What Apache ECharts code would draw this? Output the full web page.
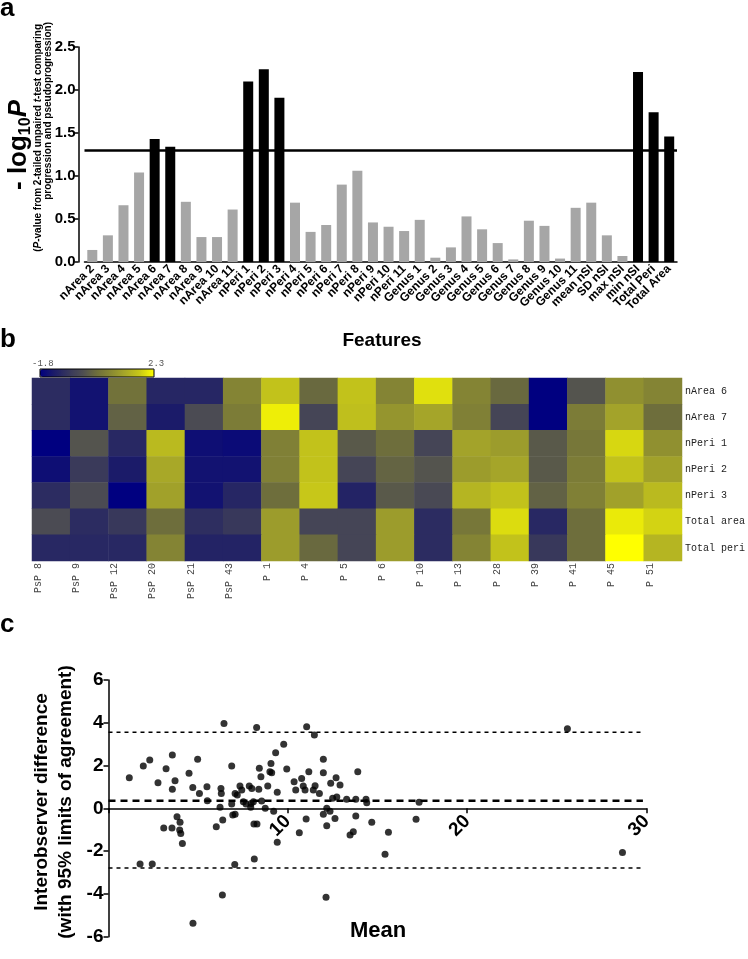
<!DOCTYPE html>
<html><head><meta charset="utf-8">
<script src="https://cdn.jsdelivr.net/npm/echarts@6/dist/echarts.min.js"></script>
<style>html,body{margin:0;padding:0;background:#fff}#c{width:748px;height:959px}</style>
</head><body><div id="c"></div>
<script>
// ---------- Panel a data ----------
const barCategories = ['nArea 2','nArea 3','nArea 4','nArea 5','nArea 6','nArea 7','nArea 8','nArea 9','nArea 10','nArea 11',
  'nPeri 1','nPeri 2','nPeri 3','nPeri 4','nPeri 5','nPeri 6','nPeri 7','nPeri 8','nPeri 9','nPeri 10','nPeri 11',
  'Genus 1','Genus 2','Genus 3','Genus 4','Genus 5','Genus 6','Genus 7','Genus 8','Genus 9','Genus 10','Genus 11',
  'mean nSI','SD nSI','max nSI','min nSI','Total Peri','Total Area'];
const barValues = [0.14,0.31,0.66,1.04,1.43,1.34,0.70,0.29,0.29,0.61,
  2.10,2.24,1.91,0.69,0.35,0.43,0.90,1.06,0.46,0.41,0.36,
  0.49,0.05,0.17,0.53,0.38,0.22,0.03,0.48,0.42,0.04,0.63,
  0.69,0.31,0.07,2.21,1.74,1.46];
const threshold = 1.301;
const barTicks = [0,0.5,1.0,1.5,2.0,2.5];

// ---------- Panel b data ----------
const heatCols = ['PsP 8','PsP 9','PsP 12','PsP 20','PsP 21','PsP 43','P 1','P 4','P 5','P 6','P 10','P 13','P 28','P 39','P 41','P 45','P 51'];
const heatRows = ['nArea 6','nArea 7','nPeri 1','nPeri 2','nPeri 3','Total area','Total peri'];
const rowNArea6 = [-0.98,-1.47,0.33,-1.10,-1.10,0.66,1.69,0.17,1.69,0.66,2.01,0.66,0.17,-1.80,-0.16,0.87,0.66];
const rowNArea7 = [-0.98,-1.47,0.05,-1.31,-0.32,0.50,2.14,-0.45,1.64,0.95,1.23,0.58,-0.45,-1.80,0.50,1.19,0.25];
const rowNPeri1 = [-1.80,-0.16,-1.06,1.56,-1.55,-1.60,0.58,1.69,-0.08,0.25,-0.45,1.19,1.07,-0.08,0.41,1.93,0.87];
const rowNPeri2 = [-1.55,-0.69,-1.31,1.28,-1.47,-1.47,0.58,1.69,-0.45,0.09,-0.16,1.07,1.23,-0.08,0.50,1.69,1.15];
const rowNPeri3 = [-0.98,-0.32,-1.80,1.15,-1.47,-1.10,0.25,1.77,-1.14,-0.08,-0.37,1.48,1.69,0.05,0.58,1.15,1.56];
const rowTotalArea = [-0.32,-0.98,-0.73,0.25,-0.94,-0.73,1.07,-0.45,-0.45,1.07,-0.98,0.41,1.97,-1.06,0.25,2.10,1.89];
const rowTotalPeri = [-1.06,-1.06,-1.06,0.66,-1.14,-1.14,1.07,0.17,-0.45,1.07,-0.98,0.66,1.69,-0.73,0.25,2.30,1.48];
const heatMin = -1.8, heatMax = 2.3;

// ---------- Panel c data ----------
const meanX = [1.16,1.94,2.30,2.76,1.76,2.44,3.08,3.21,3.56,3.56,3.71,3.54,3.82,3.99,3.97,4.03,4.12,4.49,4.70,4.71,
  4.97,5.07,5.49,5.51,6.01,6.22,6.27,6.29,6.37,6.44,6.35,6.87,6.87,6.93,7.06,7.06,7.04,7.18,7.33,7.43,
  7.52,7.67,7.85,7.95,7.93,7.99,8.08,8.11,8.13,8.26,8.28,8.38,8.41,8.50,8.54,8.74,8.88,9.00,9.06,9.10,
  9.21,9.32,9.41,9.41,9.77,9.94,10.35,10.44,10.64,10.77,10.86,11.05,11.02,10.96,11.17,11.48,11.52,11.42,11.76,11.98,
  11.98,11.98,12.13,12.17,12.17,12.35,12.39,12.50,12.63,12.69,12.73,12.91,13.28,13.47,13.65,13.79,13.79,13.90,14.36,14.40,
  14.68,15.61,15.42,17.15,17.32,25.59,28.66];
const diffY = [1.43,1.98,2.26,1.20,-2.60,-2.60,-0.92,1.85,2.49,0.89,1.29,-0.92,-0.39,-0.65,-1.01,-1.17,-1.64,1.64,0.98,-5.37,
  2.29,0.70,1.01,0.36,-0.86,0.05,0.93,0.70,-0.55,3.97,-4.05,1.98,0.20,-0.31,0.70,-0.28,-2.62,0.62,1.04,0.86,
  0.31,0.20,1.04,0.23,0.05,0.93,0.31,-0.73,-2.37,3.78,-0.73,0.89,1.87,1.48,0.34,0.00,1.04,1.71,2.10,1.66,
  -0.13,2.60,0.75,-1.59,3.00,1.84,1.24,0.86,-1.14,1.40,1.04,3.81,-0.50,0.86,1.71,3.43,1.06,0.86,0.70,2.29,
  1.66,-0.28,-4.16,0.00,-0.81,-0.13,1.17,0.47,-0.47,1.43,0.53,1.09,0.42,-1.25,-1.09,-0.36,0.42,1.71,0.42,0.26,
  -0.65,-1.12,-2.15,-0.51,0.28,3.72,-2.06];
const loaUpper = 3.56, loaBias = 0.35, loaLower = -2.79;
const loaXRange = [0, 29.8];

// ---------- build ----------
const heatMatrix = [rowNArea6,rowNArea7,rowNPeri1,rowNPeri2,rowNPeri3,rowTotalArea,rowTotalPeri];
const heatData = [];
heatMatrix.forEach((row,r)=>row.forEach((v,c)=>heatData.push([c,r,v])));
const scatterData = meanX.map((x,i)=>[x,diffY[i]]);
const hLine = v => loaXRange.map(x=>[x,v]);

const F = 'Liberation Sans, Arial, Helvetica, sans-serif';
const M = 'Liberation Mono, DejaVu Sans Mono, monospace';

// panel c grid geometry; x axis drawn at y = 0
const cTop = 680, cHeight = 256.7, yMinC = -6, yMaxC = 6;
const zeroOffset = -cHeight * (0 - yMinC) / (yMaxC - yMinC);

const chart = echarts.init(document.getElementById('c'), null, {renderer:'canvas'});
chart.setOption({
  animation:false,
  backgroundColor:'#fff',
  textStyle:{fontFamily:F},
  grid:[
    {left:84.5, top:47, width:592.5, height:215},
    {left:32, top:378, width:653, height:183},
    {left:108.5, top:cTop, width:538, height:cHeight}
  ],
  xAxis:[
    {gridIndex:0, type:'category', data:barCategories,
     axisLine:{lineStyle:{color:'#000',width:1.5}},
     axisTick:{alignWithLabel:true,length:4,lineStyle:{color:'#000',width:1.2}},
     axisLabel:{interval:0, rotate:45, margin:5, fontSize:12, fontWeight:'bold', color:'#000', fontFamily:F}},
    {gridIndex:1, type:'category', data:heatCols, position:'bottom',
     axisLine:{show:false}, axisTick:{show:false}, splitArea:{show:false},
     axisLabel:{interval:0, rotate:90, margin:2, fontSize:10, color:'#444', fontFamily:M, verticalAlign:'bottom', lineHeight:26}},
    {gridIndex:2, type:'value', min:0, max:30, interval:10, offset:zeroOffset,
     axisLine:{onZero:false, lineStyle:{color:'#000',width:1.5}},
     axisTick:{length:5, lineStyle:{color:'#000',width:1.5}},
     splitLine:{show:false},
     axisLabel:{rotate:45, margin:10, fontSize:19, fontWeight:'bold', color:'#000',
       formatter:v=> v===0 ? '' : String(v)}}
  ],
  yAxis:[
    {gridIndex:0, type:'value', min:barTicks[0], max:barTicks[barTicks.length-1], interval:0.5, offset:6,
     axisLine:{show:true, lineStyle:{color:'#000',width:1.5}},
     axisTick:{show:true,length:4,lineStyle:{color:'#000',width:1.5}},
     splitLine:{show:false},
     axisLabel:{margin:3, fontSize:15, fontWeight:'bold', color:'#000', formatter:v=>v.toFixed(1)}},
    {gridIndex:1, type:'category', data:heatRows, inverse:true, position:'right',
     axisLine:{show:false}, axisTick:{show:false},
     axisLabel:{margin:3, fontSize:10, color:'#222', fontFamily:M}},
    {gridIndex:2, type:'value', min:yMinC, max:yMaxC, interval:2,
     axisLine:{show:true, onZero:false, lineStyle:{color:'#000',width:1.5}},
     axisTick:{show:true,length:5,lineStyle:{color:'#000',width:1.5}},
     splitLine:{show:false},
     axisLabel:{margin:5, fontSize:19, fontWeight:'bold', color:'#000'}}
  ],
  visualMap:{type:'continuous', min:heatMin, max:heatMax, seriesIndex:1, orient:'horizontal',
    left:40, top:369, itemWidth:8, itemHeight:114, calculable:false, padding:0, showLabel:false,
    inRange:{color:['#000080','#1c1c68','#36365c','#4e4e52','#6e6e3c','#8a8a32','#a8a828','#c8c818','#ffff00']}},
  graphic:[
    {type:'text', left:0, top:-4, style:{text:'a', font:'bold 26px '+F, fill:'#000'}},
    {type:'text', left:0, top:327, style:{text:'b', font:'bold 26px '+F, fill:'#000'}},
    {type:'text', left:0, top:612, style:{text:'c', font:'bold 26px '+F, fill:'#000'}},
    {type:'text', x:382, y:341, style:{text:'Features', font:'bold 19px '+F, fill:'#000', align:'center', verticalAlign:'middle'}},
    {type:'text', x:19, y:145, rotation:Math.PI/2,
     style:{text:'{m|- log}{s|10}{p|P}', align:'center', verticalAlign:'middle',
       rich:{m:{font:'bold 26px '+F, fill:'#000'}, s:{font:'bold 16px '+F, fill:'#000', padding:[14,0,0,0]}, p:{font:'italic bold 26px '+F, fill:'#000'}}}},
    {type:'text', x:38, y:24, rotation:Math.PI/2,
     style:{text:'{n|(}{i|P}{n|-value from 2-tailed unpaired }{i|t}{n|-test comparing}', align:'right', verticalAlign:'middle',
       rich:{n:{font:'bold 10px '+F, fill:'#000'}, i:{font:'italic bold 10px '+F, fill:'#000'}}}},
    {type:'text', x:48, y:22, rotation:Math.PI/2,
     style:{text:'progression and pseudoprogression)', font:'bold 10px '+F, fill:'#000', align:'right', verticalAlign:'middle'}},
    {type:'text', x:32, y:368, style:{text:'-1.8', font:'9px '+M, fill:'#555', align:'left', verticalAlign:'bottom'}},
    {type:'text', x:148, y:368, style:{text:'2.3', font:'9px '+M, fill:'#555', align:'left', verticalAlign:'bottom'}},
    {type:'rect', shape:{x:40, y:369, width:114, height:8}, style:{fill:'none', stroke:'#000', lineWidth:1}, z:100},
    {type:'text', x:42, y:802, rotation:Math.PI/2,
     style:{text:'Interobserver difference', font:'bold 19px '+F, fill:'#000', align:'center', verticalAlign:'middle'}},
    {type:'text', x:66, y:802, rotation:Math.PI/2,
     style:{text:'(with 95% limits of agreement)', font:'bold 19px '+F, fill:'#000', align:'center', verticalAlign:'middle'}},
    {type:'text', x:378, y:931, style:{text:'Mean', font:'bold 22px '+F, fill:'#000', align:'center', verticalAlign:'middle'}}
  ],
  series:[
    {type:'bar', xAxisIndex:0, yAxisIndex:0, barWidth:10,
     data:barValues.map(v=>({value:v, itemStyle:{color: v>threshold ? '#000' : '#a6a6a6'}})),
     markLine:{silent:true, symbol:'none', label:{show:false}, lineStyle:{color:'#000', width:2.5, type:'solid'},
       data:[{yAxis:threshold}]}},
    {type:'heatmap', xAxisIndex:1, yAxisIndex:1, data:heatData, itemStyle:{borderWidth:0}},
    {type:'scatter', xAxisIndex:2, yAxisIndex:2, data:scatterData, symbolSize:7, itemStyle:{color:'#000'}, z:5},
    {type:'line', xAxisIndex:2, yAxisIndex:2, data:hLine(loaUpper), symbol:'none', lineStyle:{color:'#000', width:1.5, type:[4,4]}},
    {type:'line', xAxisIndex:2, yAxisIndex:2, data:hLine(loaBias), symbol:'none', lineStyle:{color:'#000', width:2.5, type:[7,5]}},
    {type:'line', xAxisIndex:2, yAxisIndex:2, data:hLine(loaLower), symbol:'none', lineStyle:{color:'#000', width:1.5, type:[4,4]}}
  ]
});
</script></body></html>
